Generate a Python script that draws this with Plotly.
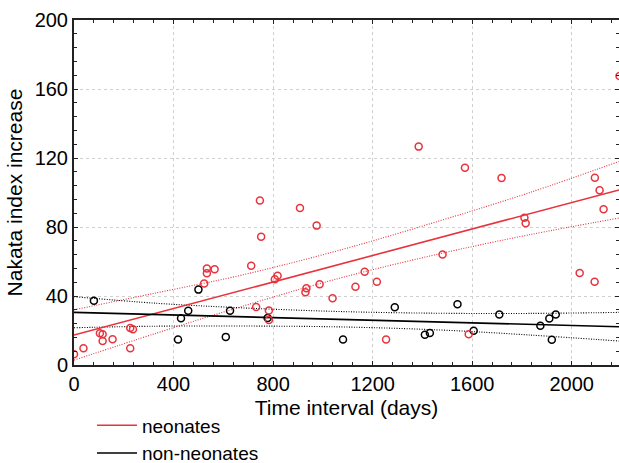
import plotly.graph_objects as go

# ---- data ----
neo_x = [0, 38, 104, 115, 115, 155, 226, 237, 226, 523, 534, 534, 565, 712, 732, 747, 752,
         783, 783, 807, 818, 908, 930, 934, 975, 987, 1039, 1131, 1168, 1217, 1254, 1385,
         1481, 1571, 1586, 1718, 1810, 1815, 2032, 2092, 2093, 2112, 2128, 2192]
neo_y = [6.2, 9.7, 18.4, 17.8, 13.9, 14.9, 21.4, 20.7, 9.7, 47.3, 56.0, 53.2, 55.5, 57.6, 33.6, 95.3, 74.3,
         31.6, 26.1, 49.7, 51.8, 91.0, 42.2, 44.5, 80.8, 46.8, 38.7, 45.3, 54.1, 48.3, 14.8, 126.6,
         64.0, 114.3, 17.8, 108.4, 85.4, 82.2, 53.3, 48.3, 108.5, 101.3, 90.3, 167.5]

non_x = [80, 418, 430, 459, 500, 610, 627, 778, 1081, 1289, 1410, 1430, 1541, 1606, 1709,
         1874, 1910, 1936, 1920]
non_y = [37.3, 14.8, 27.1, 31.5, 43.7, 16.3, 31.5, 27.2, 14.8, 33.5, 17.6, 18.5, 35.2, 19.9, 29.3,
         22.7, 26.9, 29.3, 14.6]

# regression lines and confidence limits, read at sample positions
fit_x = [0, 330, 664, 1066, 1470, 1830, 2190]
neo_fit = [17.4, 30.1, 42.9, 58.3, 73.8, 87.7, 101.5]
neo_up = [32.0, 41.8, 51.8, 66.5, 83.6, 99.9, 118.0]
neo_lo = [2.8, 18.4, 33.5, 50.3, 64.5, 75.5, 85.2]
non_fit = [30.5, 29.2, 28.0, 26.5, 25.1, 23.6, 22.2]
non_up = [39.6, 35.8, 33.2, 31.0, 30.0, 29.9, 30.5]
non_lo = [21.6, 22.5, 22.6, 22.1, 20.3, 17.4, 13.9]

x_ticks = [0, 400, 800, 1200, 1600, 2000]
y_ticks = [0, 40, 80, 120, 160, 200]

RED = "#e8323c"
BLACK = "#000000"
FONT = "Liberation Sans, Arial, sans-serif"

fig = go.Figure()

# confidence limits (dotted)
for xs, ys, c in [(fit_x, neo_up, RED), (fit_x, neo_lo, RED),
                  (fit_x, non_up, BLACK), (fit_x, non_lo, BLACK)]:
    fig.add_trace(go.Scatter(x=xs, y=ys, mode="lines",
                             line=dict(color=c, width=1.1, dash="1px,1.5px", shape="spline"),
                             showlegend=False, hoverinfo="skip"))

# fit lines (solid) -> legend entries
fig.add_trace(go.Scatter(x=fit_x, y=neo_fit, mode="lines", line=dict(color=RED, width=1.6),
                         name="neonates"))
fig.add_trace(go.Scatter(x=fit_x, y=non_fit, mode="lines", line=dict(color=BLACK, width=1.6),
                         name="non-neonates"))

# data points
fig.add_trace(go.Scatter(x=non_x, y=non_y, mode="markers",
                         marker=dict(symbol="circle-open", size=7, color=BLACK, line=dict(width=1.5)),
                         showlegend=False))
fig.add_trace(go.Scatter(x=neo_x, y=neo_y, mode="markers",
                         marker=dict(symbol="circle-open", size=7, color=RED, line=dict(width=1.5)),
                         showlegend=False))

axis_common = dict(
    showline=True, linecolor="#222222", linewidth=2, mirror="ticks",
    ticks="inside", ticklen=4, tickwidth=1, tickcolor="#222222",
    showgrid=True, gridcolor="#d0d0d0", gridwidth=1, griddash="dot",
    zeroline=False, tickfont=dict(family=FONT, size=20, color="black"),
    minor=dict(ticks="inside", ticklen=3, tickcolor="#222222", showgrid=False),
)

fig.update_xaxes(range=[0, 2190], tickvals=x_ticks, ticktext=[str(v) for v in x_ticks],
                 title=dict(text="Time interval (days)", font=dict(family=FONT, size=21, color="black"),
                            standoff=6),
                 **axis_common)
fig.update_yaxes(range=[0, 200], tickvals=y_ticks, ticktext=[str(v) for v in y_ticks],
                 title=dict(text="Nakata index increase", font=dict(family=FONT, size=21, color="black"),
                            standoff=6),
                 **axis_common)
fig.update_xaxes(minor=dict(dtick=80))
fig.update_yaxes(minor=dict(dtick=8))

fig.update_layout(
    width=619, height=463, autosize=False,
    margin=dict(l=74, r=0, t=20, b=98, autoexpand=False),
    plot_bgcolor="white", paper_bgcolor="white",
    font=dict(family=FONT, size=20, color="black"),
    legend=dict(x=0.033, y=-0.12, xanchor="left", yanchor="top",
                font=dict(family=FONT, size=19, color="black"),
                bgcolor="rgba(0,0,0,0)", tracegroupgap=0, itemwidth=40),
)

fig.write_html(
    "out.html",
    config={"responsive": False, "displayModeBar": False},
    default_width="619px", default_height="463px",
    post_script="document.body.style.margin='0px';document.body.style.overflow='hidden';",
)
